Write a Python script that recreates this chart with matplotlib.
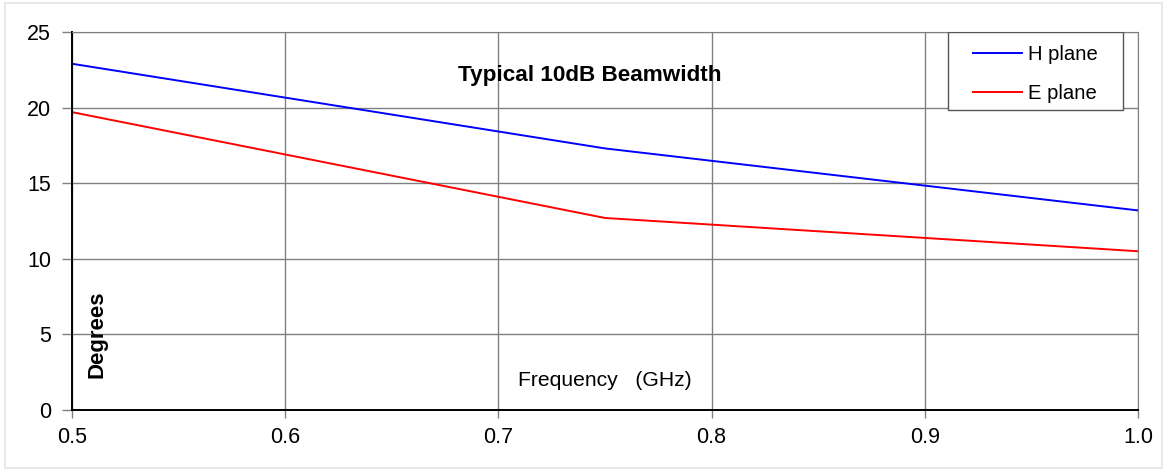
import matplotlib
matplotlib.use("Agg")
import matplotlib.pyplot as plt
from matplotlib.patches import Rectangle

plt.rcParams['font.family'] = ['Liberation Sans', 'DejaVu Sans']

freq = [0.5, 0.75, 1.0]
h_plane = [22.9, 17.3, 13.2]
e_plane = [19.7, 12.7, 10.5]
xticks = [0.5, 0.6, 0.7, 0.8, 0.9, 1.0]
xticklabels = ["0.5", "0.6", "0.7", "0.8", "0.9", "1.0"]
yticks = [0, 5, 10, 15, 20, 25]

fig = plt.figure(figsize=(11.68, 4.72), dpi=100)
fig.patches.append(Rectangle((5/1168, 4/472), 1157/1168, 465/472, transform=fig.transFigure,
                             fill=False, edgecolor='#e4ebe6', linewidth=1.5))
ax = fig.add_axes([72/1168, 62/472, 1066/1168, 378/472])

ax.plot(freq, h_plane, color='#0000ff', linewidth=1.4, label='H plane')
ax.plot(freq, e_plane, color='#ff0000', linewidth=1.4, label='E plane')

ax.set_xlim(0.5, 1.0)
ax.set_ylim(0, 25)
ax.set_xticks(xticks)
ax.set_xticklabels(xticklabels)
ax.set_yticks(yticks)
ax.grid(True, color='#808080', linewidth=1.0)
ax.set_axisbelow(True)
ax.tick_params(axis='both', labelsize=15.5, color='#808080', width=1)
ax.tick_params(axis='x', pad=6, length=6)
ax.tick_params(axis='y', pad=8, length=7)
for s in ['top', 'right']:
    ax.spines[s].set_color('#808080')
for s in ['left', 'bottom']:
    ax.spines[s].set_color('black')
    ax.spines[s].set_linewidth(1.4)

ax.text(0.486, 0.886, 'Typical 10dB Beamwidth', transform=ax.transAxes, ha='center', va='center',
        fontsize=16.2, fontweight='bold')
ax.text(0.0235, 0.2, 'Degrees', transform=ax.transAxes, ha='center', va='center',
        rotation=90, fontsize=16, fontweight='bold')
ax.text(0.5, 0.077, 'Frequency   (GHz)', transform=ax.transAxes, ha='center', va='center',
        fontsize=15.2)

# legend frame
lx0, lx1 = (948 - 72) / 1066, (1123 - 72) / 1066
ly0, ly1 = (410 - 110) / 378, 1.0
ax.add_patch(Rectangle((lx0, ly0), lx1 - lx0, ly1 - ly0, transform=ax.transAxes,
                       facecolor='white', edgecolor='#555555', linewidth=1.0, zorder=4))
leg = ax.legend(loc='center', bbox_to_anchor=((lx0 + lx1) / 2, (ly0 + ly1) / 2 - 0.008),
                fontsize=14.6, frameon=False, labelspacing=0.95, handlelength=2.4,
                handletextpad=0.3, borderpad=0, borderaxespad=0)
leg.set_zorder(5)

fig.savefig('out.png', dpi=100)
